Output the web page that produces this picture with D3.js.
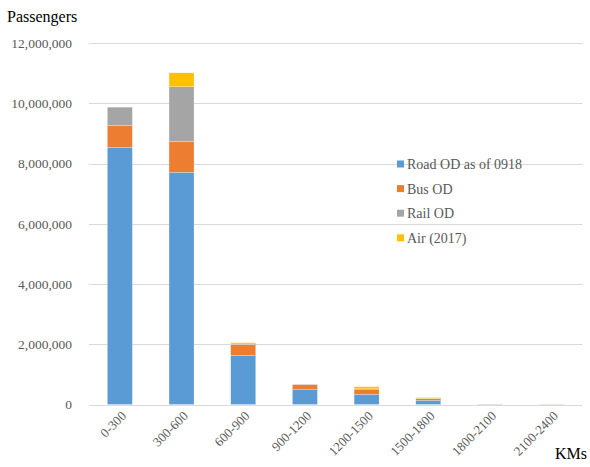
<!DOCTYPE html>
<html>
<head>
<meta charset="utf-8">
<script src="https://cdn.jsdelivr.net/npm/d3@7"></script>
<style>
  @font-face { font-family: "ChartSerif"; src: local("Liberation Serif"), local("LiberationSerif"), local("LiberationSerif-Regular"); }
</style>
</head>
<body style="margin:0">
<svg id="chart" width="590" height="467"></svg>
<script>
const categories = ["0-300","300-600","600-900","900-1200","1200-1500","1500-1800","1800-2100","2100-2400"];
const seriesNames = ["Road OD as of 0918","Bus OD","Rail OD","Air (2017)"];
const road = [8540000, 7710000, 1630000, 490000, 340000, 140000, 10000, 8000];
const bus  = [ 720000, 1020000,  360000, 170000, 170000,  50000,  4000, 3000];
const rail = [ 610000, 1820000,   20000,  10000,  10000,  10000,     0,    0];
const air  = [      0,  460000,   40000,      0,  70000,  30000,     0,    0];
const yTicks = [0, 2000000, 4000000, 6000000, 8000000, 10000000, 12000000];
const colors = ["#5B9BD5", "#ED7D31", "#A5A5A5", "#FFC000"];
const FONT = '"Liberation Serif", "ChartSerif"';

const svg = d3.select("#chart");
const margin = {left: 89, right: 7.5, top: 43, bottom: 62.5};
const W = 590, H = 467;

const x = d3.scaleBand().domain(categories).range([margin.left, W - margin.right]).paddingInner(0.595).paddingOuter(0.2975);
const y = d3.scaleLinear().domain([0, 12000000]).range([H - margin.bottom, margin.top]);

// gridlines
svg.append("g").selectAll("line").data(yTicks).join("line")
  .attr("x1", margin.left).attr("x2", W - margin.right)
  .attr("y1", d => Math.round(y(d)) + 0.5).attr("y2", d => Math.round(y(d)) + 0.5)
  .attr("stroke", "#D9D9D9").attr("stroke-width", 1);

// y axis labels
const yAxis = d3.axisLeft(y).tickValues(yTicks).tickFormat(d3.format(",")).tickSize(0).tickPadding(0);
const gy = svg.append("g").attr("transform", `translate(${72},0)`).call(yAxis);
gy.attr("font-family", null).attr("font-size", null);
gy.select(".domain").remove();
gy.selectAll("text").attr("fill", "#595959")
  .attr("font-size", 13.5).style("font-family", FONT);

// stacked bars
const rows = categories.map((c, i) => ({cat: c, s0: road[i], s1: bus[i], s2: rail[i], s3: air[i]}));
const stack = d3.stack().keys(["s0","s1","s2","s3"]);
const layers = stack(rows);
svg.append("g").selectAll("g").data(layers).join("g")
  .attr("fill", (d, i) => colors[i])
  .selectAll("rect").data(d => d).join("rect")
  .attr("x", d => x(d.data.cat))
  .attr("width", x.bandwidth())
  .attr("y", d => y(d[1]))
  .attr("height", d => Math.max(0, y(d[0]) - y(d[1])))
  .attr("stroke", "#fff").attr("stroke-width", 0.4).attr("stroke-opacity", 0.6);

// x axis labels
const xAxis = d3.axisBottom(x).tickSize(0).tickPadding(0);
const gx = svg.append("g").attr("transform", `translate(0,${H - margin.bottom})`).call(xAxis);
gx.attr("font-family", null).attr("font-size", null);
gx.select(".domain").remove();
gx.selectAll("text")
  .attr("fill", "#595959")
  .attr("font-size", 13).style("font-family", FONT)
  .attr("text-anchor", "end")
  .attr("transform", "translate(4,9) rotate(-45)")
  .attr("dy", "0.35em").attr("y", 0).attr("x", 0);

// titles
svg.append("text").attr("x", 7).attr("y", 22).text("Passengers").attr("fill", "#000")
  .attr("font-size", 16).style("font-family", FONT);
svg.append("text").attr("x", 555).attr("y", 459).text("KMs").attr("fill", "#000")
  .attr("font-size", 16).style("font-family", FONT);

// legend
const lg = svg.append("g");
seriesNames.forEach((n, i) => {
  const cy = 164 + i * 24.6;
  lg.append("rect").attr("x", 397).attr("y", cy - 3.5).attr("width", 7).attr("height", 7).attr("fill", colors[i]);
  lg.append("text").attr("x", 407).attr("y", cy).attr("dy", "0.35em").text(n)
    .attr("fill", "#595959").attr("font-size", 14).style("font-family", FONT);
});
</script>
</body>
</html>
